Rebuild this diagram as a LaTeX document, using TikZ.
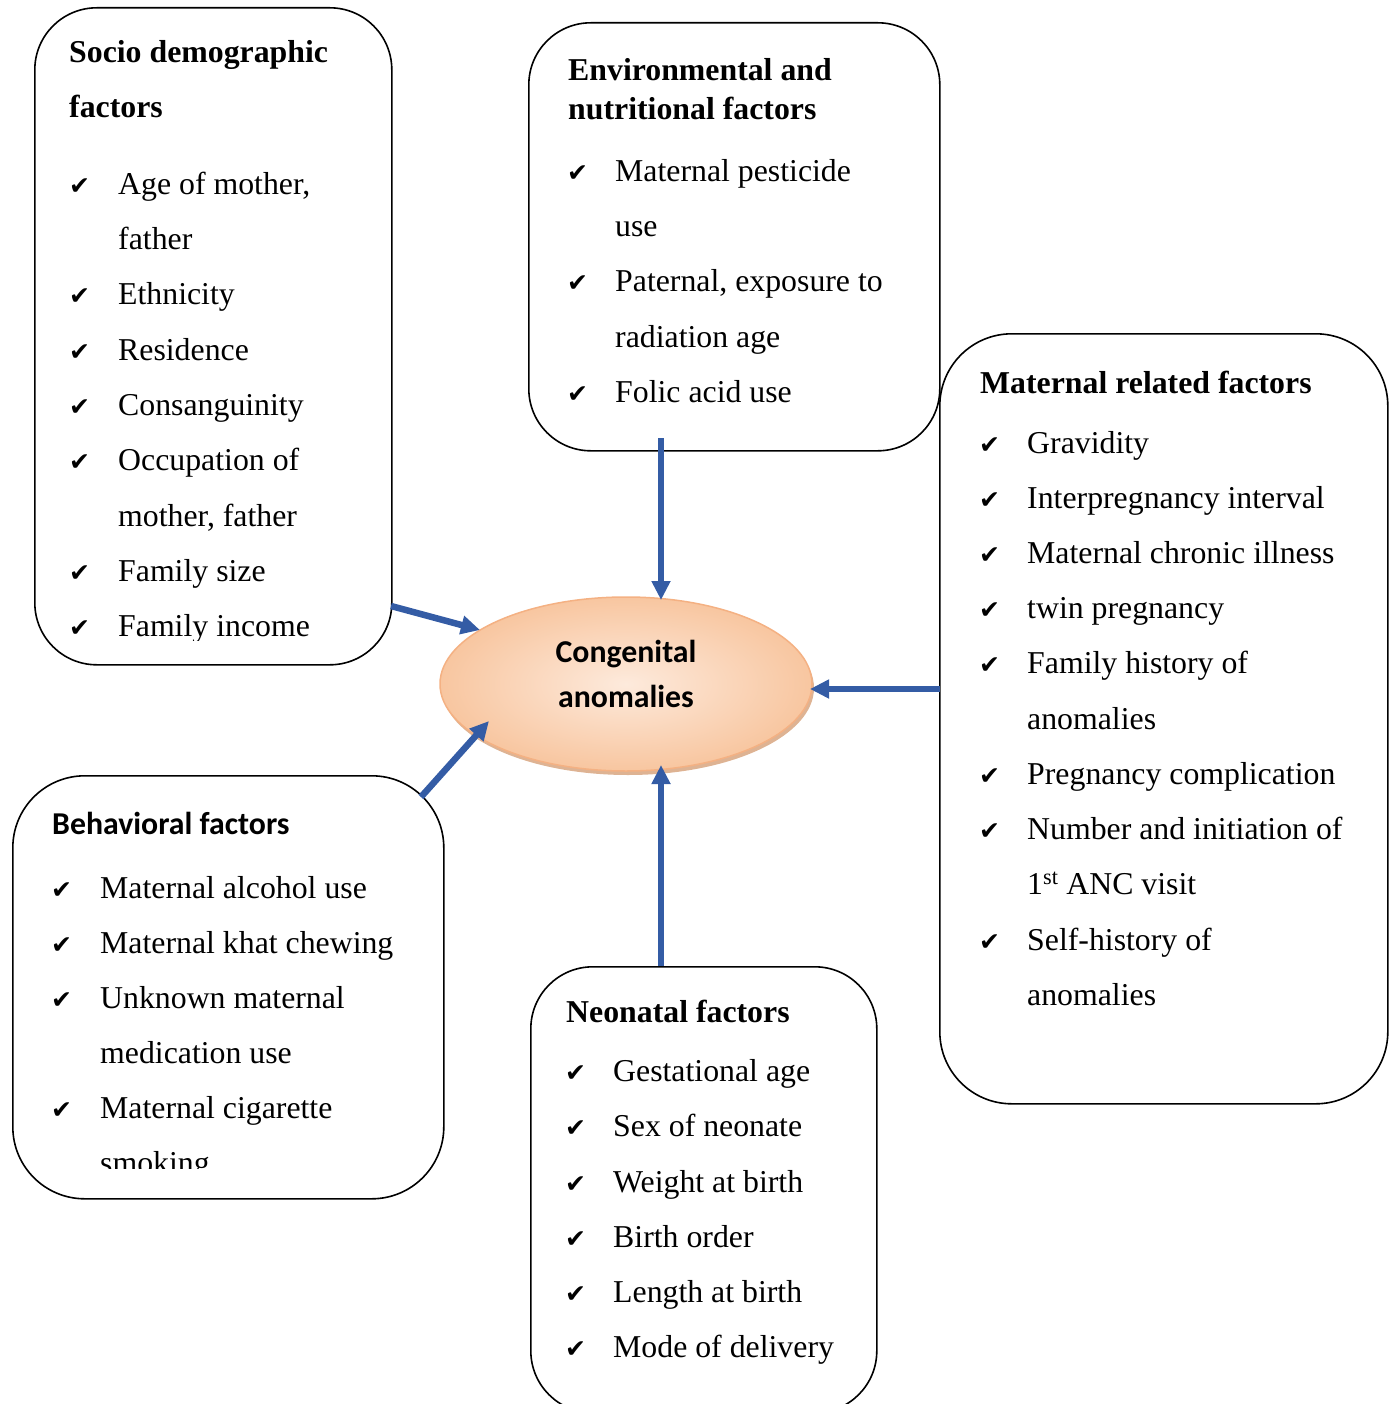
\documentclass[tikz,border=0pt]{standalone}
\usepackage{fontspec}
\setmainfont{Liberation Serif}
\newfontfamily\calib{Carlito}
\newfontfamily\dejavu{DejaVu Sans}
\usetikzlibrary{arrows.meta,shapes.geometric,shadows}
\definecolor{arrblue}{RGB}{52,92,165}
\definecolor{elin}{RGB}{253,234,220}
\definecolor{elout}{RGB}{248,198,160}
\definecolor{elborder}{RGB}{244,177,131}
\definecolor{elshadow}{RGB}{214,160,120}
\newcommand\ckitem[5]{%
  \node[ck] (#1c) at (#2,#4) {✔};
  \node[txt] (#1) at (#3,#4) {#5};}
\newcommand\plitem[4]{%
  \node[txt] (#1) at (#2,#3) {#4};}
\begin{document}
\begin{tikzpicture}[x=1pt,y=-1pt,
  box/.style={draw, line width=1.6pt, rounded corners=62pt, anchor=north west, inner sep=0, fill=white},
  txt/.style={anchor=base west, inner sep=0, font=\fontsize{31.8}{38}\selectfont},
  hd/.style={anchor=base west, inner sep=0, font=\fontsize{31.8}{38}\selectfont\bfseries},
  hdc/.style={anchor=base west, inner sep=0, font=\calib\fontsize{31.8}{38}\selectfont\bfseries},
  ck/.style={anchor=base west, inner sep=0, font=\dejavu\fontsize{25}{30}\selectfont},
  arr/.style={line width=6.5pt, color=arrblue, -{Triangle[length=19pt,width=18pt]}}]
\useasboundingbox (0,0) rectangle (1393,1404);

% boxes
\node[box, minimum width=357pt, minimum height=657pt] (socio) at (34,7) {};
\node[box, minimum width=411pt, minimum height=428pt] (env) at (528,22) {};
\node[box, minimum width=448pt, minimum height=770pt, rounded corners=72pt] (mat) at (939,333) {};
\node[box, minimum width=431pt, minimum height=423pt, rounded corners=72pt] (beh) at (12,775) {};
\node[box, minimum width=346pt, minimum height=446pt] (neo) at (530,966) {};

% central ellipse
\node[ellipse, minimum width=372pt, minimum height=174pt, draw=elborder, line width=1.5pt,
      inner color=elin, outer color=elout,
      drop shadow={shadow xshift=2pt, shadow yshift=-4pt, fill=elshadow, opacity=0.8}] (ca) at (626,684) {};
\node[align=center, inner sep=0, font=\calib\fontsize{31.8}{45}\selectfont\bfseries, anchor=base] (catxt) at (626,707) {Congenital\\anomalies};

% socio demographic
\begin{scope}
\clip (0,0) rectangle (1393,640);
\node[hd] (sh1) at (69,63) {Socio demographic};
\node[hd] (sh2) at (69,118) {factors};
\ckitem{s1}{69}{118}{195}{Age of mother,}
\plitem{s2}{118}{250}{father}
\ckitem{s3}{69}{118}{305}{Ethnicity}
\ckitem{s4}{69}{118}{360}{Residence}
\ckitem{s5}{69}{118}{415}{Consanguinity}
\ckitem{s6}{69}{118}{470}{Occupation of}
\plitem{s7}{118}{526}{mother, father}
\ckitem{s8}{69}{118}{581}{Family size}
\ckitem{s9}{69}{118}{636}{Family income}
\end{scope}

% environmental
\node[hd] (eh1) at (568,81) {Environmental and};
\node[hd] (eh2) at (568,120) {nutritional factors};
\ckitem{e1}{567}{615}{182}{Maternal pesticide}
\plitem{e2}{615}{237}{use}
\ckitem{e3}{567}{615}{292}{Paternal, exposure to}
\plitem{e4}{615}{347}{radiation age}
\ckitem{e5}{567}{615}{402}{Folic acid use}

% maternal
\node[hd] (mh) at (980,393) {Maternal related factors};
\ckitem{m1}{979}{1027}{453}{Gravidity}
\ckitem{m2}{979}{1027}{508}{Interpregnancy interval}
\ckitem{m3}{979}{1027}{563}{Maternal chronic illness}
\ckitem{m4}{979}{1027}{618}{twin pregnancy}
\ckitem{m5}{979}{1027}{673}{Family history of}
\plitem{m6}{1027}{729}{anomalies}
\ckitem{m7}{979}{1027}{784}{Pregnancy complication}
\ckitem{m8}{979}{1027}{839}{Number and initiation of}
\plitem{m9}{1027}{894}{1\textsuperscript{st} ANC visit}
\ckitem{m10}{979}{1027}{950}{Self-history of}
\plitem{m11}{1027}{1005}{anomalies}

% behavioral
\begin{scope}
\clip (0,0) rectangle (1393,1168);
\node[hdc] (bh) at (52,834) {Behavioral factors};
\ckitem{b1}{51}{100}{898}{Maternal alcohol use}
\ckitem{b2}{51}{100}{953}{Maternal khat chewing}
\ckitem{b3}{51}{100}{1008}{Unknown maternal}
\plitem{b4}{100}{1063}{medication use}
\ckitem{b5}{51}{100}{1118}{Maternal cigarette}
\plitem{b6}{100}{1173}{smoking}
\end{scope}

% neonatal
\node[hd] (nh) at (566,1022) {Neonatal factors};
\ckitem{n1}{565}{613}{1081}{Gestational age}
\ckitem{n2}{565}{613}{1136}{Sex of neonate}
\ckitem{n3}{565}{613}{1192}{Weight at birth}
\ckitem{n4}{565}{613}{1247}{Birth order}
\ckitem{n5}{565}{613}{1302}{Length at birth}
\ckitem{n6}{565}{613}{1357}{Mode of delivery}

% connector end points
\coordinate (sA) at (391,606);  \coordinate (sB) at (480,630);
\coordinate (eA) at (661,438);  \coordinate (eB) at (661,600);
\coordinate (mA) at (940,689);  \coordinate (mB) at (810,689);
\coordinate (bA) at (421,797);  \coordinate (bB) at (489,721);
\coordinate (nA) at (661,966);  \coordinate (nB) at (661,765);

\draw[arr] (sA) -- (sB);
\draw[arr] (eA) -- (eB);
\draw[arr] (mA) -- (mB);
\draw[arr] (bA) -- (bB);
\draw[arr] (nA) -- (nB);
\end{tikzpicture}
\end{document}
